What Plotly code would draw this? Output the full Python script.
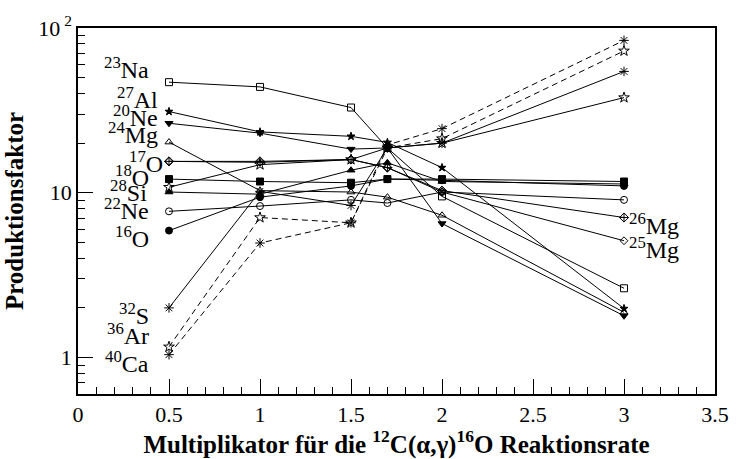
import plotly.graph_objects as go

# Multiplier of the 12C(alpha,gamma)16O rate
multiplier = [0.5, 1.0, 1.5, 1.7, 2.0, 3.0]

# Production factors per isotope
na23 = [46.9, 43.9, 32.9, 18.7, 9.5, 2.63]
al27 = [31.1, 23.4, 22.0, 20.2, 14.2, 1.98]
ne20 = [26.4, 23.0, 18.4, 18.7, 6.5, 1.79]
mg24 = [20.3, 10.3, 10.1, 9.4, 7.3, 1.88]
o17 = [12.1, 11.7, 11.5, 12.1, 12.1, 11.7]
o18 = [10.8, 14.8, 15.9, 18.7, 20.0, 37.8]
si28 = [10.1, 9.8, 13.7, 15.2, 11.7, 11.3]
ne22 = [7.71, 8.3, 9.05, 8.66, 10.1, 9.05]
o16 = [5.89, 9.4, 11.0, 12.1, 11.9, 11.0]
s32 = [2.0, 10.2, 8.37, 18.7, 20.0, 54.5]
ar36 = [1.16, 7.07, 6.57, 18.7, 21.3, 72.6]
ca40 = [1.04, 4.95, 6.57, 19.5, 24.5, 84.1]
mg26 = [15.5, 15.5, 15.9, 14.2, 10.3, 7.07]
mg25 = [15.5, 15.3, 15.9, 14.2, 10.1, 5.11]

x_ticks = [0, 0.5, 1, 1.5, 2, 2.5, 3, 3.5]
x_ticktext = ["0", "0.5", "1", "1.5", "2", "2.5", "3", "3.5"]
y_ticks = [1, 10, 100]
y_ticktext = ["1", "10", "10<sup> 2</sup>"]

series = [
    ("23Na", na23, "square-open", "solid", 7),
    ("27Al", al27, "star", "solid", 6),
    ("20Ne", ne20, "triangle-down", "solid", 7),
    ("24Mg", mg24, "triangle-up-open", "solid", 7),
    ("17O", o17, "square", "solid", 7),
    ("18O", o18, "star-open", "solid", 8),
    ("28Si", si28, "triangle-up", "solid", 7),
    ("22Ne", ne22, "circle-open", "solid", 7),
    ("16O", o16, "circle", "solid", 7),
    ("32S", s32, "asterisk-open", "solid", 8),
    ("36Ar", ar36, "star-open", "6px,4px", 8),
    ("40Ca", ca40, "asterisk-open", "6px,4px", 8),
    ("26Mg", mg26, "diamond-cross-open", "solid", 7),
    ("25Mg", mg25, "diamond-open", "solid", 6),
]

fig = go.Figure()
for name, vals, sym, dash, size in series:
    fig.add_trace(go.Scatter(
        x=multiplier, y=vals, name=name, mode="lines+markers",
        line=dict(color="black", width=1, dash=dash),
        marker=dict(symbol=sym, size=size, color="black",
                    line=dict(color="black", width=1)),
        showlegend=False,
    ))

# Plot area in pixels: left 78, right 725, top 20.7, bottom 394
L, R, T, B = 78, 725, 20.7, 394.0


def px(xp):
    return (xp - L) / (R - L)


def py(yp):
    return 1 - (yp - T) / (B - T)


lab_font = dict(family="Liberation Serif", size=24, color="black")
left_labels = [
    ("23", "Na", 152, 61),
    ("27", "Al", 161, 92),
    ("20", "Ne", 161, 110),
    ("24", "Mg", 161, 128),
    ("17", "O", 166, 157),
    ("18", "O", 152, 172),
    ("28", "Si", 150, 187),
    ("22", "Ne", 152, 205),
    ("16", "O", 152, 234),
    ("32", "S", 152, 312),
    ("36", "Ar", 152, 333),
    ("40", "Ca", 152, 361),
]
for mass, el, xr, yc in left_labels:
    fig.add_annotation(
        text=f"<sup>{mass}</sup>{el}", xref="paper", yref="paper",
        x=px(xr), y=py(yc), xanchor="right", yanchor="middle",
        showarrow=False, font=lab_font,
    )

right_labels = [("26", "Mg", 636, 221), ("25", "Mg", 636, 245)]
for mass, el, xl, yc in right_labels:
    fig.add_annotation(
        text=f"<sup>{mass}</sup>{el}", xref="paper", yref="paper",
        x=px(xl), y=py(yc), xanchor="left", yanchor="middle",
        showarrow=False, font=lab_font,
    )

tick_font = dict(family="Liberation Serif", size=22, color="black")
title_font = dict(family="Liberation Serif", size=25, color="black")

fig.update_layout(
    width=741, height=459,
    margin=dict(l=L, r=741 - R, t=T, b=459 - B),
    paper_bgcolor="white", plot_bgcolor="white",
    xaxis=dict(
        range=[0, 3.5], tickvals=x_ticks, ticktext=x_ticktext,
        ticks="inside", ticklen=15, tickwidth=1, tickcolor="black",
        showline=True, linecolor="black", linewidth=1.5, mirror=True,
        showgrid=False, zeroline=False, tickfont=tick_font,
        minor=dict(ticks="inside", ticklen=7, tickwidth=1, tickcolor="black",
                   tickmode="array",
                   tickvals=[i / 10 for i in range(1, 35) if i % 5 != 0],
                   showgrid=False),
        title=dict(text="<b>Multiplikator für die <sup>12</sup>C(α,γ)<sup>16</sup>O Reaktionsrate</b>",
                   font=title_font, standoff=2),
    ),
    yaxis=dict(
        type="log", range=[-0.2218, 2.0], tickvals=y_ticks, ticktext=y_ticktext,
        ticks="inside", ticklen=15, tickwidth=1, tickcolor="black",
        showline=True, linecolor="black", linewidth=1.5, mirror=True,
        showgrid=False, zeroline=False, tickfont=tick_font,
        minor=dict(ticks="inside", ticklen=7, tickwidth=1, tickcolor="black",
                   tickmode="array",
                   tickvals=[0.7, 0.8, 0.9] + [d for d in range(2, 10)]
                   + [10 * d for d in range(2, 10)],
                   showgrid=False),
        title=dict(text="<b>Produktionsfaktor</b>", font=title_font, standoff=8),
    ),
)

fig.write_html("out.html")
